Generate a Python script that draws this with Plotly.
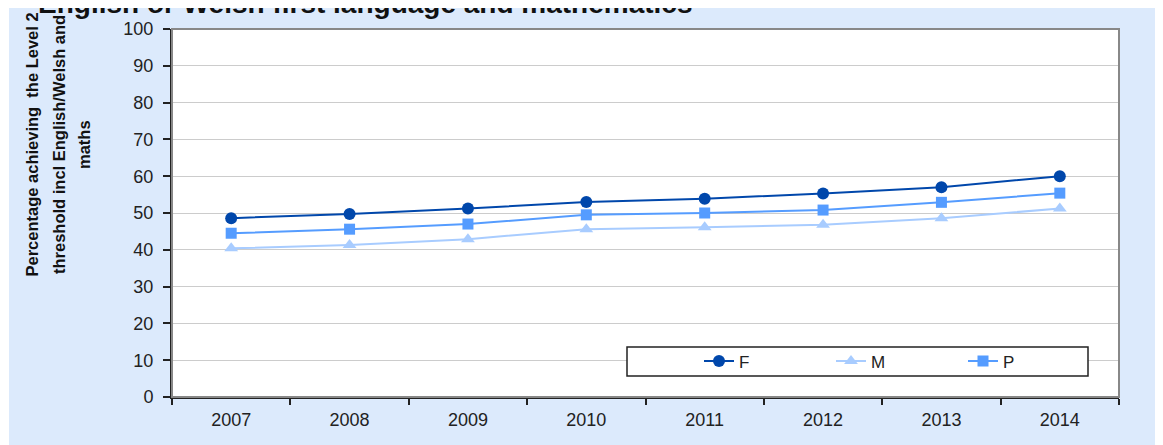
import plotly.graph_objects as go

years = ["2007", "2008", "2009", "2010", "2011", "2012", "2013", "2014"]
female = [48.6, 49.7, 51.2, 53.0, 53.9, 55.3, 57.0, 60.0]
male = [40.4, 41.3, 42.9, 45.6, 46.1, 46.8, 48.6, 51.2]
pupils = [44.5, 45.6, 47.0, 49.5, 50.0, 50.8, 52.9, 55.4]

title_text = "English or Welsh first language and mathematics"
ytitle_lines = ["Percentage achieving  the Level 2", "threshold incl English/Welsh and", "maths"]

# figure pixel frame (page body adds an 8px offset)
W, H = 1155, 437
L, R, T, B = 164, 44, 21, 48
ph = H - T - B
pw = W - L - R

fig = go.Figure()
fig.add_trace(go.Scatter(x=years, y=female, name="F", mode="lines+markers",
                         line=dict(color="#0047AB", width=2),
                         marker=dict(symbol="circle", size=12, color="#0047AB")))
fig.add_trace(go.Scatter(x=years, y=male, name="M", mode="lines+markers",
                         line=dict(color="#A8CCFF", width=2),
                         marker=dict(symbol="triangle-up", size=12, color="#A8CCFF")))
fig.add_trace(go.Scatter(x=years, y=pupils, name="P", mode="lines+markers",
                         line=dict(color="#559CFF", width=2),
                         marker=dict(symbol="square", size=11, color="#559CFF")))

def px_x(p):
    return (p - L) / pw

def px_y(p):
    return (H - B - p) / ph

shapes = [
    # light blue chart area
    dict(type="rect", xref="paper", yref="paper", x0=px_x(1), x1=px_x(W + 5),
         y0=px_y(H + 5), y1=px_y(0), fillcolor="#DCEAFC", line=dict(width=0), layer="below"),
    # plot area white
    dict(type="rect", xref="paper", yref="paper", x0=0, x1=1, y0=0, y1=1,
         fillcolor="white", line=dict(width=0), layer="below"),
    # plot border gray
    dict(type="rect", xref="paper", yref="paper", x0=0, x1=1, y0=0, y1=1,
         line=dict(color="#888888", width=2), layer="above"),
    # legend box
    dict(type="rect", xref="paper", yref="paper", x0=px_x(619), x1=px_x(1080),
         y0=px_y(368), y1=px_y(339), fillcolor="white",
         line=dict(color="#222222", width=1.5), layer="above"),
]

annotations = [
    dict(text="<b>" + title_text + "</b>", xref="paper", yref="paper",
         x=px_x(28), y=px_y(-5), xanchor="left", yanchor="middle", showarrow=False,
         font=dict(family="Arial", size=28, color="#111111")),
]
for xc, line in zip([23.5, 51, 76], ytitle_lines):
    annotations.append(dict(text="<b>" + line + "</b>", xref="paper", yref="paper",
                            x=px_x(xc), y=px_y(137), xanchor="center", yanchor="middle",
                            textangle=-90, showarrow=False,
                            font=dict(family="Arial", size=16.5, color="#111111")))

fig.update_layout(
    width=W, height=H,
    margin=dict(l=L, r=R, t=T, b=B, pad=0, autoexpand=False),
    paper_bgcolor="white",
    plot_bgcolor="rgba(0,0,0,0)",
    shapes=shapes,
    annotations=annotations,
    showlegend=True,
    legend=dict(orientation="h", x=px_x(691), y=px_y(353.5), xanchor="left", yanchor="middle",
                bgcolor="rgba(0,0,0,0)", borderwidth=0, entrywidth=87, entrywidthmode="pixels",
                font=dict(family="Arial", size=17, color="#222222"), traceorder="normal"),
    font=dict(family="Arial", size=18, color="#222222"),
)

fig.update_xaxes(type="category", showgrid=False, showline=True, linecolor="#222222", linewidth=2,
                 ticks="outside", tickson="boundaries", ticklen=6, tickcolor="#222222", tickwidth=1.5,
                 tickfont=dict(family="Arial", size=18, color="#222222"), mirror=False,
                 range=[-0.5, 7.5], zeroline=False, ticklabelstandoff=5)
fig.update_yaxes(range=[0, 100], dtick=10, showgrid=True, gridcolor="#CCCCCC", gridwidth=1,
                 showline=True, linecolor="#222222", linewidth=2, ticks="outside", ticklen=7,
                 tickcolor="#222222", tickwidth=1.5, zeroline=False,
                 tickfont=dict(family="Arial", size=18, color="#222222"), ticklabelstandoff=6)

fig.write_html("out.html")
